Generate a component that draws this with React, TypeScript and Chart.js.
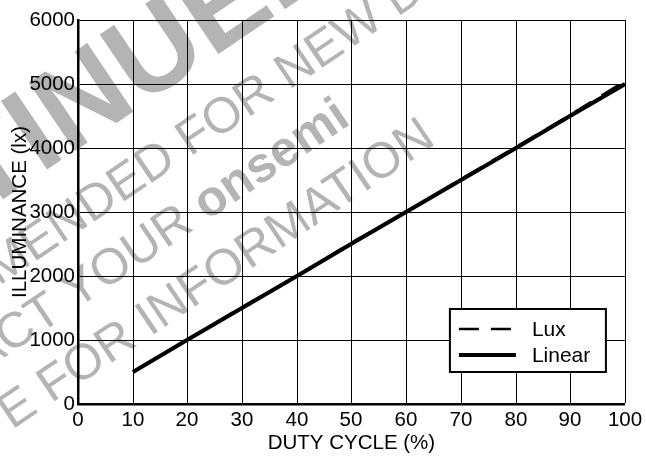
import React, { useEffect, useRef } from "react";
import { Chart, registerables } from "chart.js";

Chart.register(...registerables);

// ---- data ----
const dutyCycle = [10, 20, 30, 40, 50, 60, 70, 80, 90, 100];
const luxValues = [505, 1005, 1510, 2005, 2515, 3005, 3515, 4010, 4520, 5050];
const linearValues = [500, 1000, 1500, 2000, 2500, 3000, 3500, 4000, 4500, 5000];
const seriesLabels = ["Lux", "Linear"];
const xAxisTitle = "DUTY CYCLE (%)";
const yAxisTitle = "ILLUMINANCE (lx)";
const xRange = [0, 100, 10];
const yRange = [0, 6000, 1000];

const FONT = "'Liberation Sans', Arial, Helvetica, sans-serif";
const WM_GRAY = "rgb(180,180,180)";
const TXT = 20.5;

// watermark text lines (rotated)
const watermarkLines = [
  { x: 140, y: 107, before: "DISCONTIN", beforeFont: `bold 120px ${FONT}`, text: "UED", font: `bold 120px ${FONT}` },
  { x: 190, y: 157, before: "NOT RECOMMENDED ", beforeFont: `50px ${FONT}`, text: "FOR NEW DESIGN", font: `50px ${FONT}` },
  { x: 207, y: 221, before: "CONTACT YOUR ", beforeFont: `50px ${FONT}`, text: "onsemi", font: `bold 50px ${FONT}` },
  { x: 12, y: 430, before: "REPRESENTATIV", beforeFont: `50px ${FONT}`, text: "E FOR INFORMATION", font: `50px ${FONT}` },
];

const watermarkPlugin = {
  id: "watermark",
  beforeDraw(chart: any) {
    const ctx = chart.ctx as CanvasRenderingContext2D;
    ctx.save();
    ctx.fillStyle = WM_GRAY;
    ctx.textBaseline = "alphabetic";
    const ang = (-34 * Math.PI) / 180;
    for (const w of watermarkLines) {
      ctx.save();
      ctx.translate(w.x, w.y);
      ctx.rotate(ang);
      ctx.font = w.beforeFont;
      ctx.textAlign = "right";
      ctx.fillText(w.before, 0, 0);
      ctx.font = w.font;
      ctx.textAlign = "left";
      ctx.fillText(w.text, 0, 0);
      ctx.restore();
    }
    ctx.restore();
  },
};

const boxLegendPlugin = {
  id: "boxLegend",
  afterDatasetsDraw(chart: any) {
    const ctx = chart.ctx as CanvasRenderingContext2D;
    const ca = chart.chartArea;
    const boxW = 156;
    const boxH = 63;
    const x0 = ca.right - 19 - boxW;
    const y0 = ca.top + 289;
    ctx.save();
    ctx.fillStyle = "#fff";
    ctx.fillRect(x0, y0, boxW, boxH);
    ctx.strokeStyle = "#000";
    ctx.lineWidth = 2;
    ctx.strokeRect(x0, y0, boxW, boxH);
    const rows = [y0 + 20, y0 + 46];
    chart.data.datasets.forEach((ds: any, i: number) => {
      const y = rows[i];
      ctx.beginPath();
      ctx.setLineDash(ds.borderDash || []);
      ctx.lineWidth = ds.borderWidth;
      ctx.strokeStyle = "#000";
      ctx.moveTo(x0 + 9, y);
      ctx.lineTo(x0 + 66, y);
      ctx.stroke();
      ctx.setLineDash([]);
      ctx.fillStyle = "#000";
      ctx.font = `21px ${FONT}`;
      ctx.textBaseline = "middle";
      ctx.textAlign = "left";
      ctx.fillText(ds.label, x0 + 82, y + 1);
    });
    ctx.restore();
  },
};

export default function App() {
  const ref = useRef<HTMLCanvasElement | null>(null);

  useEffect(() => {
    document.body.style.margin = "0";
    const canvas = ref.current!;
    const chart = new Chart(canvas, {
      type: "line",
      data: {
        datasets: [
          {
            label: seriesLabels[0],
            data: dutyCycle.map((x, i) => ({ x, y: luxValues[i] })),
            borderColor: "#000",
            borderWidth: 2.5,
            borderDash: [20, 12],
            pointRadius: 0,
            tension: 0,
            fill: false,
          },
          {
            label: seriesLabels[1],
            data: dutyCycle.map((x, i) => ({ x, y: linearValues[i] })),
            borderColor: "#000",
            borderWidth: 4.2,
            pointRadius: 0,
            tension: 0,
            fill: false,
          },
        ],
      },
      options: {
        responsive: false,
        animation: false,
        devicePixelRatio: 1,
        layout: { padding: { left: 0, top: 20, right: 20, bottom: 0 } },
        plugins: {
          legend: { display: false },
          tooltip: { enabled: false },
        },
        scales: {
          x: {
            type: "linear",
            min: xRange[0],
            max: xRange[1],
            alignToPixels: true,
            ticks: {
              stepSize: xRange[2],
              color: "#000",
              font: { family: FONT, size: TXT },
              padding: 4,
              maxRotation: 0,
              callback: (v: any) => String(v),
            },
            grid: { color: "#000", lineWidth: 1, drawTicks: false },
            border: { display: true, color: "#000", width: 2.5 },
            title: {
              display: true,
              text: xAxisTitle,
              color: "#000",
              font: { family: FONT, size: TXT },
              padding: { top: 0, bottom: 0 },
            },
            afterFit: (s: any) => {
              s.height = 52;
            },
          },
          y: {
            type: "linear",
            min: yRange[0],
            max: yRange[1],
            alignToPixels: true,
            ticks: {
              stepSize: yRange[2],
              color: "#000",
              font: { family: FONT, size: TXT },
              padding: 3,
              callback: (v: any) => String(v),
            },
            grid: { color: "#000", lineWidth: 1, drawTicks: false },
            border: { display: true, color: "#000", width: 2.5 },
            title: {
              display: true,
              text: yAxisTitle,
              color: "#000",
              font: { family: FONT, size: TXT },
              padding: { top: 8, bottom: 8 },
            },
            afterFit: (s: any) => {
              s.width = 78;
            },
          },
        },
      },
      plugins: [watermarkPlugin, boxLegendPlugin],
    });
    return () => chart.destroy();
  }, []);

  return (
    <div style={{ width: 646, height: 456 }}>
      <canvas ref={ref} width={646} height={456} style={{ display: "block" }} />
    </div>
  );
}
